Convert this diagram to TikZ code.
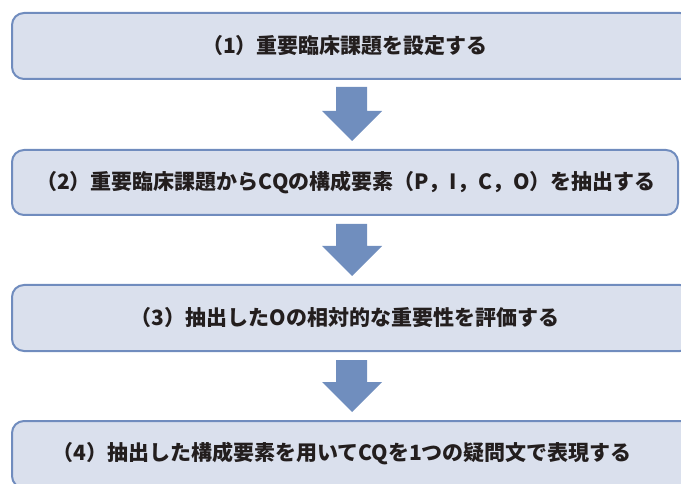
\documentclass[tikz,border=0pt]{standalone}
\usepackage{fontspec}
\newfontfamily\cjk{Noto Sans CJK JP}
\definecolor{boxfill}{RGB}{218,224,237}
\definecolor{boxline}{RGB}{112,140,190}
\definecolor{arrowc}{RGB}{112,142,190}
\definecolor{txt}{RGB}{35,30,30}
\begin{document}
\begin{tikzpicture}[x=1pt,y=-1pt,
  stepbox/.style={draw=boxline,line width=2pt,fill=boxfill,rounded corners=12pt},
  steptext/.style={font=\cjk\bfseries\fontsize{21}{23}\selectfont,text=txt,inner sep=0pt,anchor=center},
  blockarrow/.style={fill=arrowc}]
\useasboundingbox (0,0) rectangle (681,484);
\clip (0,0) rectangle (681,484);
% boxes
\draw[stepbox] (12,13) rectangle (692,79);
\coordinate (b1) at (345,46);
\draw[stepbox] (12,150) rectangle (678,215);
\coordinate (b2) at (346,182.5);
\draw[stepbox] (12,285) rectangle (692,351);
\coordinate (b3) at (345,318);
\draw[stepbox] (12,421) rectangle (692,488);
\coordinate (b4) at (342,454);
% texts
\node[steptext] (t1) at (b1) {（1）重要臨床課題を設定する};
\node[steptext] (t2) at (b2) {（2）重要臨床課題からCQの構成要素（P，I，C，O）を抽出する};
\node[steptext] (t3) at (b3) {（3）抽出したOの相対的な重要性を評価する};
\node[steptext] (t4) at (b4) {（4）抽出した構成要素を用いてCQを1つの疑問文で表現する};
% arrows
\fill[blockarrow] (336,87) -- (367,87) -- (367,111) -- (382,111) -- (352,141) -- (322,111) -- (336,111) -- cycle;
\fill[blockarrow] (336,224) -- (367,224) -- (367,246) -- (382,246) -- (352,276) -- (322,246) -- (336,246) -- cycle;
\fill[blockarrow] (336,360) -- (367,360) -- (367,382) -- (382,382) -- (352,412) -- (322,382) -- (336,382) -- cycle;
\end{tikzpicture}
\end{document}
